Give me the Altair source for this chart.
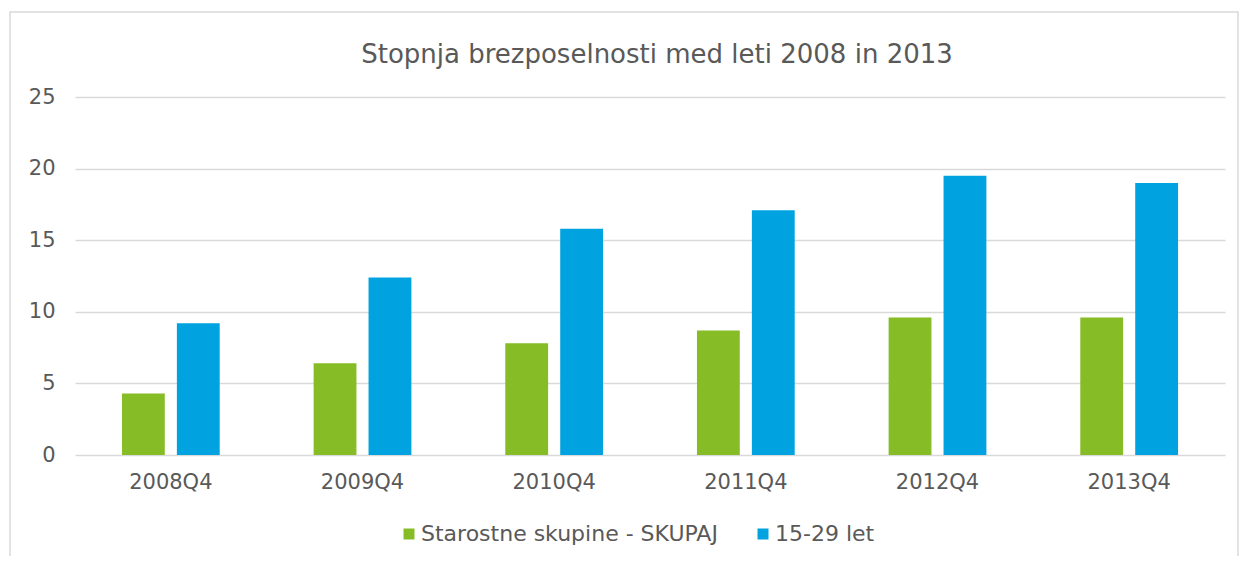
import altair as alt
import pandas as pd

quarters = ["2008Q4", "2009Q4", "2010Q4", "2011Q4", "2012Q4", "2013Q4"]
series_names = ["Starostne skupine - SKUPAJ", "15-29 let"]
skupaj = [4.3, 6.4, 7.8, 8.7, 9.6, 9.6]
mladi = [9.2, 12.4, 15.8, 17.1, 19.5, 19.0]
colors = ["#86BC25", "#00A3E0"]
y_ticks = [0, 5, 10, 15, 20, 25]
title_text = "Stopnja brezposelnosti med leti 2008 in 2013"

rows = []
for q, a, b in zip(quarters, skupaj, mladi):
    rows.append({"kvartal": q, "serija": series_names[0], "vrednost": a})
    rows.append({"kvartal": q, "serija": series_names[1], "vrednost": b})
df = pd.DataFrame(rows)

font = "DejaVu Sans"
txt = "#595959"

bars = alt.Chart(df).mark_bar().encode(
    x=alt.X("kvartal:N", sort=quarters,
            scale=alt.Scale(paddingInner=0.49, paddingOuter=0.245),
            axis=alt.Axis(title=None, labelAngle=0, domain=False, ticks=False,
                          labelFontSize=21, labelColor=txt, labelPadding=16,
                          labelFont=font, grid=False)),
    xOffset=alt.XOffset("serija:N", sort=series_names,
                        scale=alt.Scale(paddingInner=0.22, paddingOuter=0)),
    y=alt.Y("vrednost:Q", scale=alt.Scale(domain=[0, 25], nice=False),
            axis=alt.Axis(values=y_ticks, title=None, domain=False, ticks=False,
                          grid=True, gridColor="#d9d9d9", gridWidth=1.5,
                          labelFontSize=21, labelPadding=20, labelColor=txt,
                          labelFont=font)),
    color=alt.Color("serija:N", sort=series_names,
                    scale=alt.Scale(domain=series_names, range=colors),
                    legend=alt.Legend(title=None, orient="none", direction="horizontal",
                                      legendX=323, legendY=426, symbolType="square",
                                      symbolSize=121, symbolStrokeWidth=0,
                                      labelFontSize=22, labelColor=txt, labelFont=font,
                                      labelLimit=500,
                                      labelOffset=1, columnPadding=34, padding=0)),
)

border = alt.Chart(pd.DataFrame({"a": [0]})).mark_rect(
    fill="transparent", stroke="#d9d9d9", strokeWidth=1.5
).encode(x=alt.value(-65), x2=alt.value(1163), y=alt.value(-85), y2=alt.value(480))

chart = alt.layer(border, bars).properties(
    width=1150, height=358,
    autosize=alt.AutoSizeParams(type="none"),
    padding={"left": 67, "top": 89, "right": 15, "bottom": 101},
    title=alt.TitleParams(title_text, fontSize=26, font=font, color=txt,
                          fontWeight="normal", anchor="middle", offset=-57, dx=7),
).configure_view(stroke=None)

chart.save("out.html", embed_options={"renderer": "svg", "actions": False})
